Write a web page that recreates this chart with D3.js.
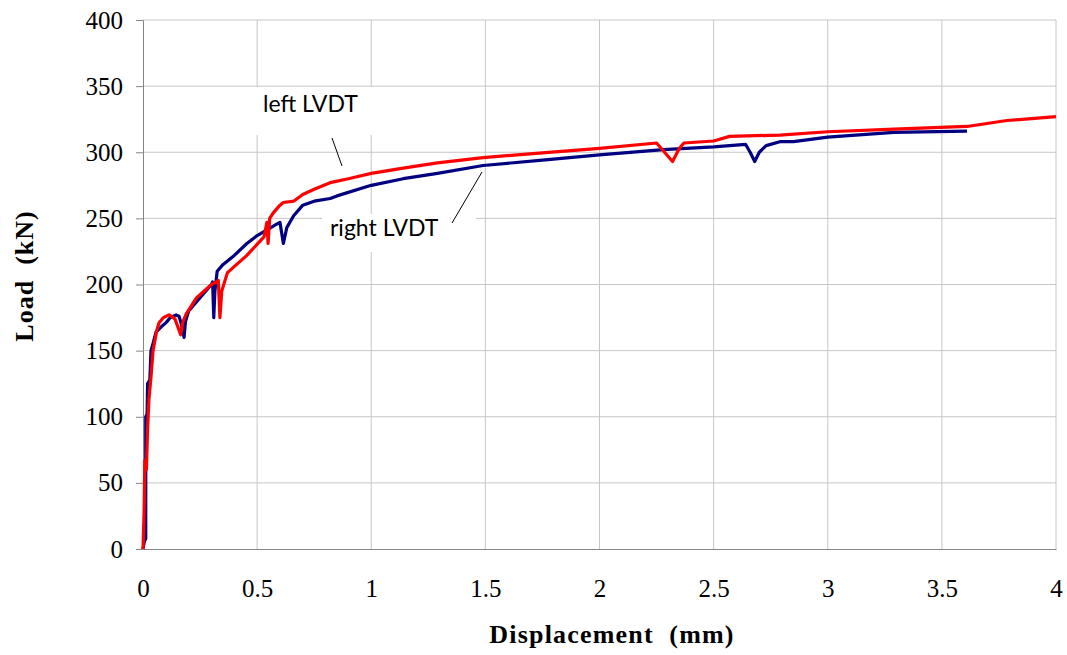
<!DOCTYPE html>
<meta charset="utf-8">
<script src="https://d3js.org/d3.v7.min.js"></script>
<style>
  body { margin: 0; background: #fff; }
</style>
<div id="my_dataviz"></div>
<script>

// tick values
var xTicks = [0, 0.5, 1, 1.5, 2, 2.5, 3, 3.5, 4]
var yTicks = [0, 50, 100, 150, 200, 250, 300, 350, 400]

// right LVDT (blue) - displacement (mm) / load (kN)
var rightDisp = [0, 0.005, 0.012, 0.012, 0.018, 0.02, 0.03, 0.035, 0.045, 0.057, 0.08, 0.1, 0.12, 0.145, 0.158,
  0.168, 0.18, 0.186, 0.2, 0.25, 0.3, 0.305, 0.31, 0.315, 0.325, 0.35, 0.4, 0.455, 0.5, 0.53, 0.58, 0.6,
  0.615, 0.63, 0.66, 0.7, 0.75, 0.82, 0.85, 1.0, 1.14, 1.29, 1.49, 1.75, 2.0, 2.28, 2.5, 2.64, 2.66, 2.68,
  2.7, 2.73, 2.79, 2.85, 3.0, 3.29, 3.61]
var rightLoad = [0, 5, 8, 100, 102, 125, 128, 150, 156, 164, 168, 171, 175, 177, 176,
  170, 160, 172, 180, 190, 200, 202, 175, 195, 210, 215, 222, 231, 237, 240, 245, 247,
  231, 243, 252, 260, 263, 265, 267, 275, 280, 284, 290, 294, 298, 302, 304, 306, 300, 293,
  300, 305, 308, 308, 311.5, 315, 316]

// left LVDT (red)
var leftDisp = [0, 0.005, 0.008, 0.012, 0.015, 0.02, 0.026, 0.035, 0.044, 0.06, 0.07, 0.09, 0.114, 0.14,
  0.165, 0.175, 0.19, 0.235, 0.3, 0.33, 0.337, 0.345, 0.37, 0.455, 0.53, 0.543, 0.548, 0.555, 0.57, 0.6,
  0.615, 0.66, 0.7, 0.75, 0.82, 0.9, 1.0, 1.14, 1.29, 1.49, 1.75, 2.0, 2.25, 2.32, 2.35, 2.37, 2.5, 2.57,
  2.79, 3.0, 3.29, 3.61, 3.785, 4.0]
var leftLoad = [0, 30, 67, 67, 60, 90, 113, 130, 150, 165, 171, 175, 177, 174,
  162, 172, 178, 190, 200, 203, 175, 195, 209, 222, 236, 247, 231, 250, 254, 260,
  262, 263, 268, 272, 277, 280, 284, 288, 292, 296, 299.5, 303, 307, 293, 303, 307, 308.5, 312,
  313, 315.5, 317.5, 319.5, 324, 327]

// set the dimensions and margins of the graph
var margin = {top: 20, right: 11, bottom: 106, left: 143},
  width = 1067 - margin.left - margin.right,
  height = 655 - margin.top - margin.bottom;

var svg = d3.select("#my_dataviz")
.append("svg")
  .attr("width", 1067)
  .attr("height", 655)
.append("g")
  .attr("transform", "translate(" + margin.left + "," + margin.top + ")");

var x = d3.scaleLinear().domain([0, 4]).range([0, width])
var y = d3.scaleLinear().domain([0, 400]).range([height, 0])

// gridlines
svg.selectAll("hgrid")
  .data(yTicks.slice(1)).enter()
  .append("line")
    .attr("x1", 0).attr("x2", width)
    .attr("y1", function(d) { return y(d) }).attr("y2", function(d) { return y(d) })
    .style("stroke", "#c6c6c6").style("stroke-width", 1)
svg.selectAll("vgrid")
  .data(xTicks.slice(1)).enter()
  .append("line")
    .attr("y1", 0).attr("y2", height)
    .attr("x1", function(d) { return x(d) }).attr("x2", function(d) { return x(d) })
    .style("stroke", "#c6c6c6").style("stroke-width", 1)

// white boxes behind the labels
svg.append("rect").attr("x", 250 - margin.left).attr("y", 87 - margin.top)
  .attr("width", 128).attr("height", 48).style("fill", "#fff")
svg.append("rect").attr("x", 322 - margin.left).attr("y", 214 - margin.top)
  .attr("width", 154).attr("height", 38).style("fill", "#fff")

// axes
var yAxis = svg.append("g")
  .call(d3.axisLeft(y).tickValues(yTicks).tickSize(7).tickPadding(13))
yAxis.select(".domain").attr("stroke", "#868686")
yAxis.selectAll(".tick line").attr("stroke", "#868686")
yAxis.selectAll(".tick text")
  .style("font-family", "'Liberation Serif', serif").style("font-size", "25px").style("fill", "#000")

var xAxis = svg.append("g")
  .attr("transform", "translate(0," + height + ")")
  .call(d3.axisBottom(x).tickValues(xTicks).tickFormat(d3.format("")).tickSize(0).tickPadding(30))
xAxis.select(".domain").attr("stroke", "#868686")
xAxis.selectAll(".tick text")
  .style("font-family", "'Liberation Serif', serif").style("font-size", "25px").style("fill", "#000")

// axis titles
svg.append("text")
  .attr("x", 612 - margin.left).attr("y", 643 - margin.top)
  .style("text-anchor", "middle").style("white-space", "pre")
  .style("font-family", "'Liberation Serif', serif").style("font-size", "26px")
  .style("font-weight", "bold").style("letter-spacing", "1.2px")
  .text("Displacement  (mm)")
svg.append("text")
  .attr("transform", "translate(" + (33 - margin.left) + "," + (276 - margin.top) + ") rotate(-90)")
  .style("text-anchor", "middle").style("white-space", "pre")
  .style("font-family", "'Liberation Serif', serif").style("font-size", "26px")
  .style("font-weight", "bold").style("letter-spacing", "1px")
  .text("Load  (kN)")

// the curves
var line = d3.line()
  .x(function(d) { return x(d[0]) })
  .y(function(d) { return y(d[1]) })

svg.append("path")
  .datum(rightDisp.map(function(d, i) { return [d, rightLoad[i]] }))
  .attr("d", line)
  .style("fill", "none").style("stroke", "#000080").style("stroke-width", 3.2)
  .style("stroke-linejoin", "round")

svg.append("path")
  .datum(leftDisp.map(function(d, i) { return [d, leftLoad[i]] }))
  .attr("d", line)
  .style("fill", "none").style("stroke", "#ff0000").style("stroke-width", 3.2)
  .style("stroke-linejoin", "round")

// labels with leader lines
svg.append("text")
  .attr("x", 263 - margin.left).attr("y", 112 - margin.top)
  .style("font-family", "Lato, sans-serif").style("font-size", "23px")
  .text("left LVDT")
svg.append("line")
  .attr("x1", 332 - margin.left).attr("y1", 138 - margin.top)
  .attr("x2", 342 - margin.left).attr("y2", 166 - margin.top)
  .style("stroke", "#000").style("stroke-width", 1)

svg.append("text")
  .attr("x", 330 - margin.left).attr("y", 236 - margin.top)
  .style("font-family", "Lato, sans-serif").style("font-size", "23px")
  .text("right LVDT")
svg.append("line")
  .attr("x1", 452 - margin.left).attr("y1", 223 - margin.top)
  .attr("x2", 482 - margin.left).attr("y2", 172 - margin.top)
  .style("stroke", "#000").style("stroke-width", 1)

</script>
